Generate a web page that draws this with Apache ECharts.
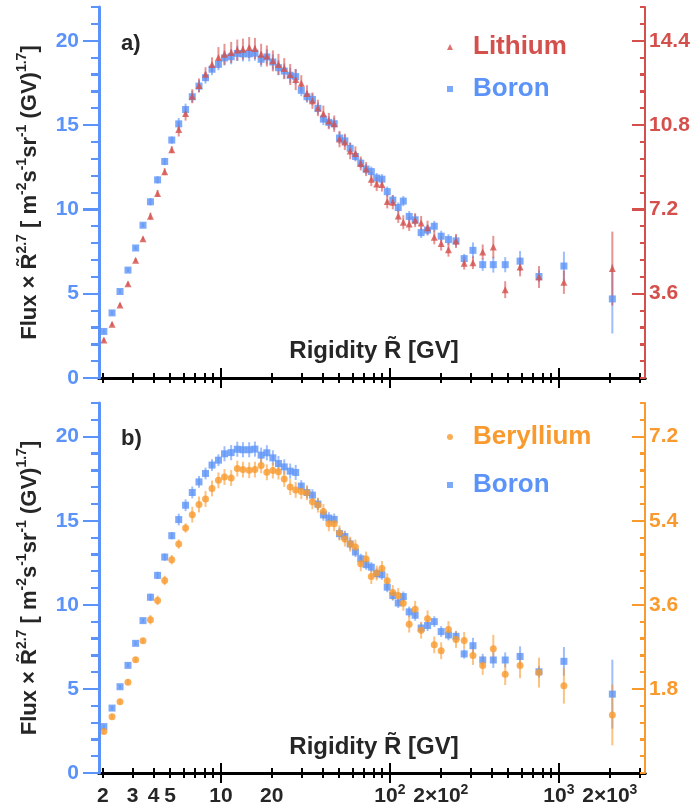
<!DOCTYPE html>
<html><head><meta charset="utf-8">
<script src="https://cdn.jsdelivr.net/npm/echarts@6/dist/echarts.min.js"></script>
<style>html,body{margin:0;padding:0;background:#fff}#c{width:694px;height:809px}</style>
</head><body><div id="c"></div>
<script>
// Rigidity bin centres [GV]
const rigidity = [2.03,2.27,2.53,2.82,3.13,3.46,3.83,4.22,4.65,5.12,
  5.63,6.18,6.77,7.42,8.11,8.86,9.67,10.5,11.5,12.5,
  13.5,14.7,15.9,17.3,18.7,20.3,21.9,23.7,25.7,27.7,
  29.9,32.3,34.8,37.5,40.4,43.5,46.8,50.3,54.1,58.2,
  62.5,67.2,72.3,77.6,83.5,89.7,96.4,104,112,120,
  130,141,153,167,183,201,222,246,275,310,
  354,409,481,589,762,1070,2070];
// Boron (left axis units)
const boron = [2.76,3.86,5.13,6.40,7.71,9.06,10.45,11.75,12.84,14.11,
  15.07,15.92,16.68,17.31,17.81,18.31,18.60,18.98,19.05,19.25,
  19.22,19.22,19.26,18.90,19.04,18.74,18.40,18.20,17.95,17.87,
  17.06,16.68,16.52,15.99,15.35,15.16,15.08,14.23,14.06,13.62,
  13.14,12.74,12.39,12.24,11.86,11.79,11.05,10.55,10.11,10.49,
  9.58,9.38,8.62,8.77,9.00,8.41,8.21,8.13,7.08,7.57,
  6.72,6.72,6.72,6.93,6.02,6.64,4.69];
const boronErr = [0.12,0.12,0.12,0.12,0.12,0.12,0.22,0.22,0.22,0.22,
  0.35,0.35,0.35,0.35,0.35,0.35,0.35,0.45,0.45,0.45,
  0.45,0.45,0.45,0.45,0.45,0.45,0.45,0.45,0.45,0.45,
  0.35,0.35,0.35,0.35,0.35,0.35,0.35,0.35,0.35,0.35,
  0.3,0.3,0.3,0.3,0.3,0.3,0.3,0.3,0.3,0.3,
  0.32,0.32,0.32,0.32,0.32,0.32,0.32,0.32,0.28,0.47,
  0.37,0.47,0.45,0.6,0.35,0.85,2.05];
// Lithium (right axis units, panel a)
const lithium = [1.62,2.30,3.12,4.02,5.03,5.95,6.91,7.88,8.81,9.75,
  10.61,11.29,12.03,12.49,12.97,13.39,13.68,13.82,13.90,14.00,
  14.04,14.11,14.07,13.82,13.75,13.54,13.39,13.21,12.96,12.74,
  12.58,12.15,11.84,11.53,11.28,10.97,10.86,10.20,10.08,9.69,
  9.59,9.16,8.92,8.49,8.28,8.26,7.54,7.50,6.92,6.65,
  6.58,6.74,6.62,6.42,6.01,5.74,5.48,5.85,4.90,4.92,
  5.38,5.59,3.77,4.74,4.31,4.09,4.67];
const lithiumErr = [0.08,0.08,0.08,0.08,0.08,0.08,0.15,0.15,0.15,0.15,
  0.3,0.3,0.3,0.3,0.3,0.3,0.45,0.45,0.45,0.45,
  0.45,0.45,0.45,0.45,0.45,0.45,0.45,0.45,0.45,0.45,
  0.35,0.35,0.35,0.35,0.35,0.35,0.35,0.35,0.35,0.35,
  0.3,0.3,0.3,0.3,0.3,0.3,0.3,0.3,0.3,0.3,
  0.3,0.3,0.3,0.3,0.3,0.3,0.3,0.3,0.27,0.27,
  0.32,0.48,0.36,0.4,0.47,0.5,1.58];
// Beryllium (right axis units, panel b)
const beryllium = [0.886,1.206,1.526,1.944,2.423,2.830,3.280,3.694,4.122,4.565,
  4.900,5.245,5.530,5.749,5.864,6.091,6.264,6.336,6.314,6.516,
  6.494,6.480,6.494,6.584,6.437,6.473,6.451,6.293,6.120,6.059,
  6.023,6.001,5.807,5.735,5.598,5.335,5.335,5.137,5.008,4.900,
  4.835,4.478,4.579,4.205,4.280,4.378,4.115,3.863,3.798,3.636,
  3.186,3.506,3.056,3.301,2.743,2.617,3.071,2.858,2.837,2.513,
  2.300,2.657,2.113,2.300,2.149,1.865,1.242];
const berylliumErr = [0.05,0.05,0.05,0.05,0.05,0.05,0.1,0.1,0.1,0.1,
  0.1,0.1,0.17,0.17,0.17,0.17,0.17,0.17,0.17,0.17,
  0.17,0.17,0.17,0.17,0.17,0.17,0.17,0.17,0.17,0.17,
  0.16,0.16,0.16,0.16,0.16,0.16,0.16,0.16,0.16,0.16,
  0.16,0.16,0.16,0.16,0.16,0.16,0.16,0.16,0.16,0.16,
  0.18,0.18,0.18,0.18,0.18,0.18,0.18,0.18,0.18,0.2,
  0.2,0.3,0.23,0.27,0.32,0.38,0.65];

const xTickValues = [2,3,4,5,10,20,100,200,1000,2000];
const xTickLabels = ['2','3','4','5','10','20','10{sup|2}','2×10{sup|2}','10{sup|3}','2×10{sup|3}'];
const xMajorTicks = [10,100,1000];
const xMinorTicks = [2,3,4,5,6,7,8,9,20,30,40,50,60,70,80,90,200,300,400,500,600,700,800,900,2000,3000];
// y axes: [max, major interval, minor interval]
const leftAxis = [22, 5, 1];
const liAxis = [15.84, 3.6, 0.72];
const beAxis = [7.92, 1.8, 0.36];
// y tick positions
const leftTicks = [0,5,10,15,20];
const leftMinor = [1,2,3,4,6,7,8,9,11,12,13,14,16,17,18,19,21];
const liTicks = [3.6,7.2,10.8,14.4];
const liMinor = [0.72,1.44,2.16,2.88,4.32,5.04,5.76,6.48,7.92,8.64,9.36,10.08,11.52,12.24,12.96,13.68,15.12];
const beTicks = [1.8,3.6,5.4,7.2];
const beMinor = [0.36,0.72,1.08,1.44,2.16,2.52,2.88,3.24,3.96,4.32,4.68,5.04,5.76,6.12,6.48,6.84,7.56];

const BLUE = '#5b93f8', RED = '#d4504c', ORANGE = '#f99a2e', DARK = '#262626';
const BLUE_ERR = 'rgba(91,147,248,0.6)', RED_ERR = 'rgba(212,80,76,0.6)', ORANGE_ERR = 'rgba(249,154,46,0.6)';
const FONT = '"Liberation Sans", Arial, Helvetica, sans-serif';
const XMIN = 1.9, XMAX = 3230;

function xAxes(gridIndex, showLabels) {
  const base = {type:'log', gridIndex, min:XMIN, max:XMAX, splitLine:{show:false}, minorTick:{show:false}};
  return [
    Object.assign({}, base, {position:'bottom',
      axisLine:{show:true, lineStyle:{color:'#000', width:3}},
      axisTick:{show:true, inside:true, length:10, customValues:xMajorTicks, lineStyle:{color:'#000', width:2}},
      axisLabel:{show:showLabels, customValues:xTickValues, margin:10, hideOverlap:false,
        color:DARK, fontSize:21, fontWeight:'bold', fontFamily:FONT, lineHeight:26,
        formatter:(val)=>{const i = xTickValues.findIndex(v=>Math.abs(v-val)/v<1e-6); return i>=0?xTickLabels[i]:'';},
        rich:{sup:{fontSize:14, fontWeight:'bold', fontFamily:FONT, color:DARK, lineHeight:14, verticalAlign:'top'}}}}),
    Object.assign({}, base, {position:'bottom',
      axisLine:{show:false},
      axisTick:{show:true, inside:true, length:5, customValues:xMinorTicks, lineStyle:{color:'#000', width:2}},
      axisLabel:{show:false}}),
    Object.assign({}, base, {position:'top',
      axisLine:{show:true, lineStyle:{color:'#000', width:3}},
      axisTick:{show:true, inside:true, length:10, customValues:xMajorTicks, lineStyle:{color:'#000', width:2}},
      axisLabel:{show:false}}),
    Object.assign({}, base, {position:'top',
      axisLine:{show:false},
      axisTick:{show:true, inside:true, length:5, customValues:xMinorTicks, lineStyle:{color:'#000', width:2}},
      axisLabel:{show:false}})
  ];
}

const yName = 'Flux × R̃{sup|2.7} [ m{sup|-2}s{sup|-1}sr{sup|-1} (GV){sup|1.7}]';

function yAxes(gridIndex, rColor, rAxis) {
  const base = {type:'value', gridIndex, min:0, z:10, splitLine:{show:false}, minorTick:{show:false}};
  return [
    Object.assign({}, base, {position:'left', max:leftAxis[0], interval:leftAxis[1],
      axisLine:{show:true, lineStyle:{color:BLUE, width:3}},
      axisTick:{show:true, inside:false, length:16, lineStyle:{color:BLUE, width:2}},
      axisLabel:{show:true, showMaxLabel:false, margin:20, color:BLUE, fontSize:21, fontWeight:'bold', fontFamily:FONT},
      name:yName, nameLocation:'middle', nameRotate:90, nameGap:50,
      nameTextStyle:{color:DARK, fontSize:22, fontWeight:'bold', fontFamily:FONT, lineHeight:30,
        rich:{sup:{fontSize:14, fontWeight:'bold', fontFamily:FONT, color:DARK, lineHeight:14, verticalAlign:'top'}}}}),
    Object.assign({}, base, {position:'left', max:leftAxis[0], interval:leftAxis[2],
      axisLine:{show:false},
      axisTick:{show:true, inside:false, length:8, lineStyle:{color:BLUE, width:2}},
      axisLabel:{show:false, showMaxLabel:false, showMinLabel:false}}),
    Object.assign({}, base, {position:'right', max:rAxis[0], interval:rAxis[1],
      axisLine:{show:true, lineStyle:{color:rColor, width:2}},
      axisTick:{show:true, inside:true, length:13, lineStyle:{color:rColor, width:2}},
      axisLabel:{show:true, showMaxLabel:false, showMinLabel:false, margin:4, color:rColor, fontSize:21, fontWeight:'bold', fontFamily:FONT,
        formatter:(v)=>v.toFixed(1)}}),
    Object.assign({}, base, {position:'right', max:rAxis[0], interval:rAxis[2],
      axisLine:{show:false},
      axisTick:{show:true, inside:true, length:5, lineStyle:{color:rColor, width:2}},
      axisLabel:{show:false, showMaxLabel:false, showMinLabel:false}})
  ];
}

function errSeries(name, vals, errs, color, xi, yi) {
  return {
    type:'custom', name, xAxisIndex:xi, yAxisIndex:yi, silent:true, z:2,
    encode:{x:0, y:[1,2]},
    data: rigidity.map((r,i)=>[r, vals[i]-errs[i], vals[i]+errs[i]]),
    renderItem:(params, api)=>{
      const x = api.value(0);
      const lo = api.coord([x, api.value(1)]);
      const hi = api.coord([x, api.value(2)]);
      return {type:'rect', shape:{x:lo[0]-1, y:hi[1], width:2, height:lo[1]-hi[1]},
        style:{fill:color}};
    }
  };
}
// y-axis tick marks placed through the axis scale (left: outward, right: inward)
function tickSeries(vals, xi, yi, side, len, color) {
  return {
    type:'custom', name:'ticks', xAxisIndex:xi, yAxisIndex:yi, silent:true, z:6, clip:false,
    encode:{x:0, y:1},
    data: vals.map(v=>[XMIN, v]),
    renderItem:(params, api)=>{
      const cs = params.coordSys;
      const y = Math.round(api.coord([api.value(0), api.value(1)])[1]);
      const x0 = side === 'left' ? cs.x : cs.x + cs.width;
      return {type:'line', shape:{x1:x0, y1:y, x2:x0-len, y2:y},
        style:{stroke:color, lineWidth:2}};
    }
  };
}
function pts(name, vals, color, symbol, size, xi, yi, z) {
  return {type:'scatter', name, xAxisIndex:xi, yAxisIndex:yi, symbol, symbolSize:size, z,
    itemStyle:{color},
    data: rigidity.map((r,i)=>[r, vals[i]])};
}

const legendText = {fontSize:26, fontWeight:'bold', fontFamily:FONT, lineHeight:30, padding:[0,0,0,15]};

const option = {
  backgroundColor:'#fff',
  animation:false,
  grid:[
    {left:99, right:49, top:7, height:371},
    {left:99, right:49, top:403, height:370}
  ],
  xAxis: xAxes(0,false).concat(xAxes(1,true)),
  yAxis: yAxes(0, RED, liAxis).concat(yAxes(1, ORANGE, beAxis)),
  legend:[
    {orient:'vertical', left:442, top:27, itemWidth:6, itemHeight:6, itemGap:12, selectedMode:false,
      textStyle:legendText,
      data:[{name:'Lithium', icon:'triangle', textStyle:{color:RED}}, {name:'Boron', icon:'rect', textStyle:{color:BLUE}}]},
    {orient:'vertical', left:442, top:417, itemWidth:6, itemHeight:6, itemGap:18, selectedMode:false,
      textStyle:legendText,
      data:[{name:'Beryllium', icon:'circle', textStyle:{color:ORANGE}}, {name:'Boron', icon:'rect', textStyle:{color:BLUE}}]}
  ],
  graphic:[
    {type:'text', left:121, top:33, style:{text:'a)', fill:DARK, font:'bold 22px '+FONT}},
    {type:'text', left:121, top:428, style:{text:'b)', fill:DARK, font:'bold 22px '+FONT}},
    {type:'text', x:374, y:351, style:{text:'Rigidity R̃ [GV]', fill:DARK, font:'bold 24px '+FONT, align:'center', verticalAlign:'middle'}},
    {type:'text', x:374, y:747, style:{text:'Rigidity R̃ [GV]', fill:DARK, font:'bold 24px '+FONT, align:'center', verticalAlign:'middle'}}
  ],
  series:[
    errSeries('errB_a', boron, boronErr, BLUE_ERR, 0, 0),
    pts('Boron', boron, BLUE, 'rect', 7, 0, 0, 3),
    errSeries('errLi', lithium, lithiumErr, RED_ERR, 0, 2),
    pts('Lithium', lithium, RED, 'triangle', 7, 0, 2, 4),
    errSeries('errB_b', boron, boronErr, BLUE_ERR, 4, 4),
    pts('Boron', boron, BLUE, 'rect', 7, 4, 4, 3),
    errSeries('errBe', beryllium, berylliumErr, ORANGE_ERR, 4, 6),
    pts('Beryllium', beryllium, ORANGE, 'circle', 7, 4, 6, 4),
    tickSeries(leftTicks, 0, 0, 'left', 16, BLUE),
    tickSeries(leftMinor, 0, 0, 'left', 8, BLUE),
    tickSeries(liTicks, 0, 2, 'right', 13, RED),
    tickSeries(liMinor, 0, 2, 'right', 5, RED),
    tickSeries(leftTicks, 4, 4, 'left', 16, BLUE),
    tickSeries(leftMinor, 4, 4, 'left', 8, BLUE),
    tickSeries(beTicks, 4, 6, 'right', 13, ORANGE),
    tickSeries(beMinor, 4, 6, 'right', 5, ORANGE)
  ]
};
const chart = echarts.init(document.getElementById('c'), null, {renderer:'canvas'});
chart.setOption(option);
</script>
</body></html>
